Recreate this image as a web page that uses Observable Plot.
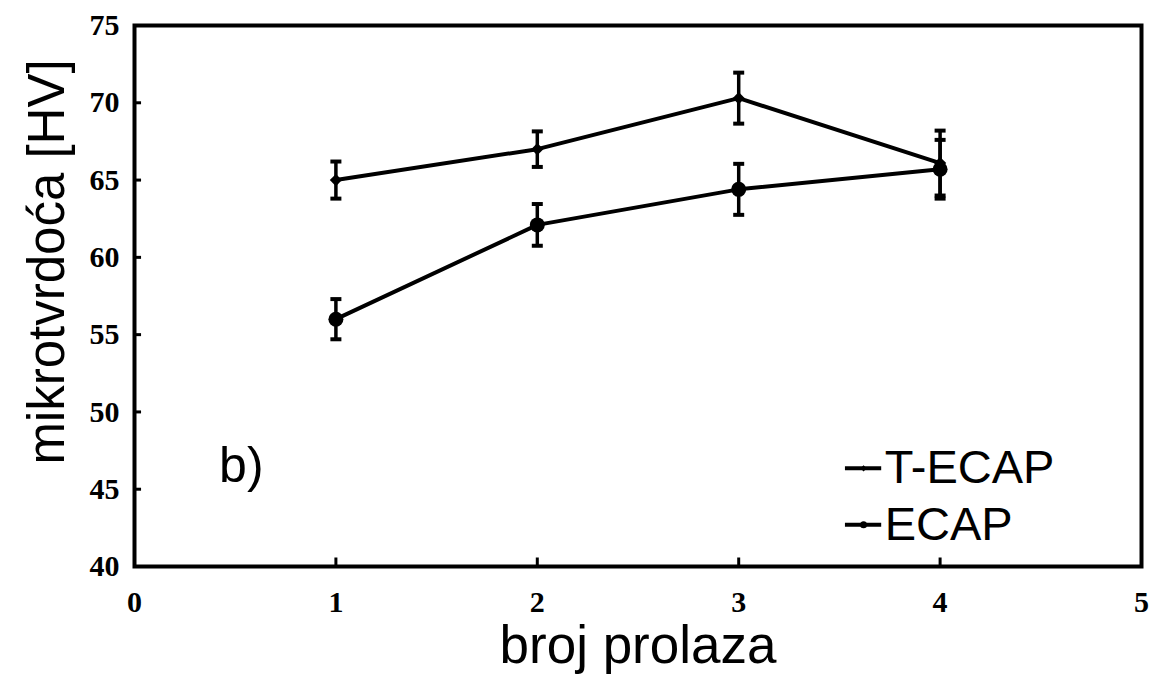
<!DOCTYPE html>
<html>
<head>
<meta charset="utf-8">
<script src="https://cdn.jsdelivr.net/npm/d3@7"></script>
<script src="https://cdn.jsdelivr.net/npm/@observablehq/plot@0.6"></script>
<style>
  html, body { margin: 0; padding: 0; background: #fff; }
  #chart { width: 1157px; height: 684px; }
</style>
</head>
<body>
<div id="chart"></div>
<script>
// --- data ---
const passes = [1, 2, 3, 4];
const tEcap = [65.0, 67.0, 70.3, 66.1];
const tEcapErr = [1.2, 1.15, 1.65, 2.1];
const ecap = [56.0, 62.1, 64.4, 65.7];
const ecapErr = [1.3, 1.35, 1.65, 1.9];
const xTicks = [0, 1, 2, 3, 4, 5];
const yTicks = [40, 45, 50, 55, 60, 65, 70, 75];
const seriesNames = ["T-ECAP", "ECAP"];
const xLabel = "broj prolaza";
const yLabel = "mikrotvrdoća [HV]";
const panelLabel = "b)";

const rows = [];
passes.forEach((p, i) => rows.push({series: "T-ECAP", x: p, y: tEcap[i], e: tEcapErr[i]}));
passes.forEach((p, i) => rows.push({series: "ECAP", x: p, y: ecap[i], e: ecapErr[i]}));
const caps = rows.flatMap(d => [{x: d.x, y: d.y - d.e}, {x: d.x, y: d.y + d.e}]);

const capSymbol = { draw(ctx) { ctx.moveTo(-5.5, 0); ctx.lineTo(5.5, 0); } };

const legendRows = [
  {name: seriesNames[0], y: 46.35, r: 4.5, symbol: "diamond2"},
  {name: seriesNames[1], y: 42.7, r: 7, symbol: "circle"}
];

const sans = "Liberation Sans, Arial, sans-serif";
const serif = "Liberation Serif, Times New Roman, serif";

const plot = Plot.plot({
  width: 1157,
  height: 684,
  marginLeft: 134,
  marginRight: 16,
  marginTop: 25,
  marginBottom: 118,
  x: {domain: [0, 5]},
  y: {domain: [40, 75]},
  symbol: {type: "identity"},
  style: {background: "#fff", color: "#000", overflow: "visible"},
  marks: [
    Plot.frame({stroke: "#000", strokeWidth: 4}),
    Plot.axisX({ticks: xTicks, tickFormat: "d", tickSize: 0, tickPadding: 24, fontSize: 30, fontWeight: "bold", fontFamily: serif, label: null}),
    Plot.axisY({ticks: yTicks, tickFormat: "d", tickSize: 0, tickPadding: 15, fontSize: 30, fontWeight: "bold", fontFamily: serif, label: null}),
    Plot.ruleY(yTicks.slice(1, -1), {y: d => d, x1: 0, x2: 0.035, stroke: "#000", strokeWidth: 3}),
    Plot.ruleX(xTicks.slice(1, -1), {x: d => d, y1: 40, y2: 40.55, stroke: "#000", strokeWidth: 3}),
    Plot.ruleX(rows, {x: "x", y1: d => d.y - d.e, y2: d => d.y + d.e, stroke: "#000", strokeWidth: 3.5}),
    Plot.dot(caps, {x: "x", y: "y", symbol: capSymbol, stroke: "#000", strokeWidth: 4, r: 5}),
    Plot.line(rows, {x: "x", y: "y", z: "series", stroke: "#000", strokeWidth: 4}),
    Plot.dot(rows.filter(d => d.series === "T-ECAP"), {x: "x", y: "y", r: 5.5, fill: "#000", symbol: "diamond2"}),
    Plot.dot(rows.filter(d => d.series === "ECAP"), {x: "x", y: "y", r: 7.5, fill: "#000"}),
    // legend
    Plot.ruleY(legendRows, {y: "y", x1: 3.53, x2: 3.71, stroke: "#000", strokeWidth: 4}),
    Plot.dot(legendRows, {x: 3.62, y: "y", r: "r", symbol: "symbol", fill: "#000"}),
    Plot.text(legendRows, {x: 3.725, y: "y", text: "name", textAnchor: "start", fontSize: 47, fontFamily: sans, fill: "#000"}),
    // panel label
    Plot.text([panelLabel], {x: 0.42, y: 46.5, text: d => d, textAnchor: "start", fontSize: 50, fontFamily: sans, fill: "#000"}),
    // axis titles
    Plot.text([xLabel], {frameAnchor: "bottom", dy: 96, text: d => d, fontSize: 53, fontFamily: sans, fill: "#000"}),
    Plot.text([yLabel], {x: -0.43, y: 59.7, rotate: -90, text: d => d, fontSize: 51, fontFamily: sans, fill: "#000"})
  ]
});
document.getElementById("chart").appendChild(plot);
</script>
</body>
</html>
